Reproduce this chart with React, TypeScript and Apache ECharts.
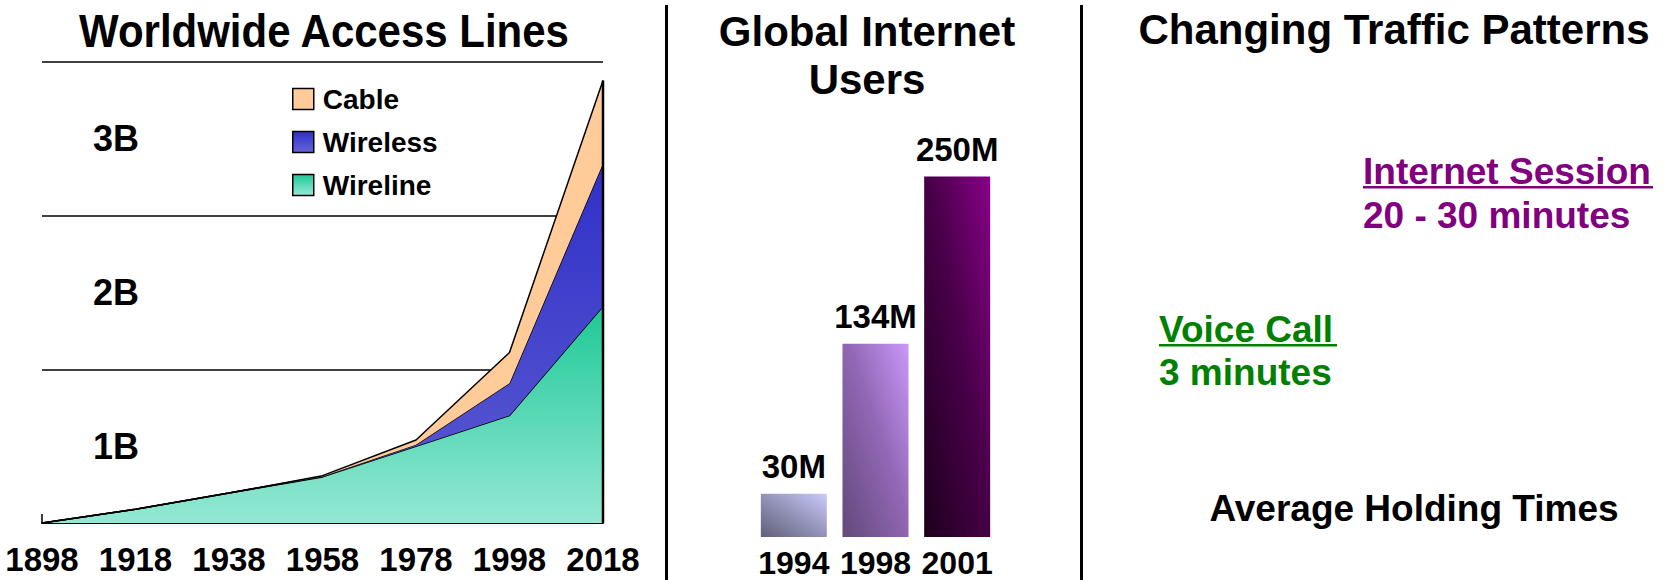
import React, { useEffect, useRef } from "react";
import * as echarts from "echarts";

// ---- data ----
const years = ["1898", "1918", "1938", "1958", "1978", "1998", "2018"];
const wireline = [0, 0.09, 0.195, 0.3, 0.5, 0.7, 1.41];
const wireless = [0, 0, 0, 0.003, 0.01, 0.21, 0.93];
const cable = [0, 0, 0, 0.005, 0.03, 0.2, 0.54];
const bandLabels = ["1B", "2B", "3B"];

const userYears = ["1994", "1998", "2001"];
const usersM = [30, 134, 250];

// ---- styles ----
const FONT = "'Liberation Sans', Arial, Helvetica, sans-serif";
const barStops = [
  ["#cbcbfb", "#9898bf", "#5f5f78"],
  ["#ca98fa", "#9268b6", "#62487a"],
  ["#880088", "#4a004a", "#1c001c"],
];

const lin = (c1: string, c2: string) =>
  new echarts.graphic.LinearGradient(0, 0, 0, 1, [
    { offset: 0, color: c1 },
    { offset: 1, color: c2 },
  ]);

export default function App() {
  const ref = useRef<HTMLDivElement>(null);

  useEffect(() => {
    if (!ref.current) return;
    const chart = echarts.init(ref.current, undefined, { renderer: "svg" });
    const total2018 =
      wireline[wireline.length - 1] + wireless[wireless.length - 1] + cable[cable.length - 1];
    const lastYear = years[years.length - 1];

    const option: any = {
      animation: false,
      backgroundColor: "#ffffff",
      textStyle: { fontFamily: FONT },
      legend: {
        orient: "vertical",
        left: 287,
        top: 80,
        itemWidth: 21,
        itemHeight: 21,
        itemGap: 15,
        selectedMode: false,
        textStyle: { fontSize: 28, fontWeight: "bold", color: "#000", fontFamily: FONT, lineHeight: 28, padding: [0, 0, 0, 4] },
        data: [
          { name: "Cable", icon: "rect", itemStyle: { color: "#ffcc99", borderColor: "#000", borderWidth: 1.5 } },
          { name: "Wireless", icon: "rect", itemStyle: { color: lin("#3030c8", "#6464da"), borderColor: "#000", borderWidth: 1.5 } },
          { name: "Wireline", icon: "rect", itemStyle: { color: lin("#1ec896", "#98ead8"), borderColor: "#000", borderWidth: 1.5 } },
        ],
      },
      grid: [
        { left: 42, top: 62, width: 561, height: 461 },
        { left: 753, top: 104.4, width: 245, height: 432.6 },
      ],
      xAxis: [
        {
          gridIndex: 0,
          type: "category",
          data: years,
          boundaryGap: false,
          axisLine: { lineStyle: { color: "#000", width: 2 } },
          axisTick: { inside: true, length: 9, lineStyle: { color: "#000", width: 1.5 } },
          axisLabel: { interval: 0, margin: 20, fontSize: 33, fontWeight: "bold", color: "#000", fontFamily: FONT },
          splitLine: { show: false },
        },
        {
          gridIndex: 1,
          type: "category",
          data: userYears,
          axisLine: { show: false },
          axisTick: { show: false },
          axisLabel: { interval: 0, margin: 10, fontSize: 32, lineHeight: 32, fontWeight: "bold", color: "#000", fontFamily: FONT },
        },
      ],
      yAxis: [
        {
          gridIndex: 0,
          type: "value",
          min: 0,
          max: 3,
          interval: 1,
          axisLine: { show: false },
          axisTick: { show: false },
          axisLabel: { show: false },
          splitLine: { show: true, lineStyle: { color: "#000", width: 1.5 } },
        },
        {
          gridIndex: 0,
          type: "value",
          min: 0,
          max: 3,
          interval: 0.5,
          position: "left",
          axisLine: { show: false },
          axisTick: { show: false },
          splitLine: { show: false },
          axisLabel: {
            inside: true,
            margin: 51,
            fontSize: 36,
            fontWeight: "bold",
            color: "#000",
            fontFamily: FONT,
            padding: [8, 0, 0, 0],
            formatter: (v: number) => {
              const i = Math.round(v - 0.5);
              return Math.abs(v - 0.5 - i) < 1e-6 && i >= 0 && i < bandLabels.length ? bandLabels[i] : "";
            },
          },
        },
        {
          gridIndex: 1,
          type: "value",
          min: 0,
          max: 300,
          show: false,
        },
      ],
      series: [
        {
          name: "Wireline",
          type: "line",
          stack: "lines",
          xAxisIndex: 0,
          yAxisIndex: 0,
          data: wireline,
          symbol: "none",
          lineStyle: { color: "#000", width: 1.5 },
          areaStyle: { color: lin("#1ec896", "#94e8d4"), opacity: 1 },
          itemStyle: { color: "#1ec896" },
          z: 2,
        },
        {
          name: "Wireless",
          type: "line",
          stack: "lines",
          xAxisIndex: 0,
          yAxisIndex: 0,
          data: wireless,
          symbol: "none",
          lineStyle: { color: "#000", width: 1.5 },
          areaStyle: { color: lin("#3030c8", "#5c5cd2"), opacity: 1 },
          itemStyle: { color: "#3030c8" },
          z: 3,
        },
        {
          name: "Cable",
          type: "line",
          stack: "lines",
          xAxisIndex: 0,
          yAxisIndex: 0,
          data: cable,
          symbol: "none",
          lineStyle: { color: "#000", width: 1.5 },
          areaStyle: { color: "#ffcc99", opacity: 1 },
          itemStyle: { color: "#ffcc99" },
          z: 4,
        },
        {
          name: "edge",
          type: "line",
          xAxisIndex: 0,
          yAxisIndex: 0,
          data: [
            [lastYear, 0],
            [lastYear, total2018],
          ],
          symbol: "none",
          lineStyle: { color: "#000", width: 2.5 },
          z: 5,
        },
        {
          name: "Users",
          type: "bar",
          xAxisIndex: 1,
          yAxisIndex: 2,
          barWidth: 66,
          data: usersM.map((v, i) => ({
            value: v,
            itemStyle: {
              color: new echarts.graphic.LinearGradient(1, 0, 0, 1, [
                { offset: 0, color: barStops[i][0] },
                { offset: 0.45, color: barStops[i][1] },
                { offset: 1, color: barStops[i][2] },
              ]),
            },
          })),
          label: {
            show: true,
            position: "top",
            distance: 11,
            fontSize: 33,
            fontWeight: "bold",
            color: "#000",
            fontFamily: FONT,
            formatter: (p: any) => `${p.value}M`,
          },
        },
      ],
      graphic: [
        { type: "rect", shape: { x: 665, y: 5, width: 3, height: 580 }, style: { fill: "#000" } },
        { type: "rect", shape: { x: 1080, y: 5, width: 3, height: 580 }, style: { fill: "#000" } },
        {
          type: "text",
          x: 324,
          y: 31,
          scaleY: 1.1,
          style: { text: "Worldwide Access Lines", font: `bold 42px ${FONT}`, fill: "#000", textAlign: "center", textVerticalAlign: "middle" },
        },
        {
          type: "text",
          x: 867,
          y: 31,
          style: { text: "Global Internet", font: `bold 42px ${FONT}`, fill: "#000", textAlign: "center", textVerticalAlign: "middle" },
        },
        {
          type: "text",
          x: 867,
          y: 79,
          style: { text: "Users", font: `bold 42px ${FONT}`, fill: "#000", textAlign: "center", textVerticalAlign: "middle" },
        },
        {
          type: "text",
          x: 1394,
          y: 29,
          style: { text: "Changing Traffic Patterns", font: `bold 42px ${FONT}`, fill: "#000", textAlign: "center", textVerticalAlign: "middle" },
        },
        {
          type: "text",
          x: 1363,
          y: 171,
          style: { text: "Internet Session", font: `bold 37px ${FONT}`, fill: "#800080", textAlign: "left", textVerticalAlign: "middle" },
        },
        { type: "rect", shape: { x: 1363, y: 186, width: 290, height: 2.5 }, style: { fill: "#800080" } },
        {
          type: "text",
          x: 1363,
          y: 215,
          style: { text: "20 - 30 minutes", font: `bold 37px ${FONT}`, fill: "#800080", textAlign: "left", textVerticalAlign: "middle" },
        },
        {
          type: "text",
          x: 1159,
          y: 329,
          style: { text: "Voice Call", font: `bold 37px ${FONT}`, fill: "#008000", textAlign: "left", textVerticalAlign: "middle" },
        },
        { type: "rect", shape: { x: 1159, y: 344, width: 178, height: 2.5 }, style: { fill: "#008000" } },
        {
          type: "text",
          x: 1159,
          y: 372,
          style: { text: "3 minutes", font: `bold 37px ${FONT}`, fill: "#008000", textAlign: "left", textVerticalAlign: "middle" },
        },
        {
          type: "text",
          x: 1414,
          y: 508,
          style: { text: "Average Holding Times", font: `bold 37px ${FONT}`, fill: "#000", textAlign: "center", textVerticalAlign: "middle" },
        },
      ],
    };

    chart.setOption(option);
    return () => chart.dispose();
  }, []);

  return (
    <div
      ref={ref}
      style={{ position: "absolute", left: 0, top: 0, width: 1667, height: 580, background: "#fff" }}
    />
  );
}
